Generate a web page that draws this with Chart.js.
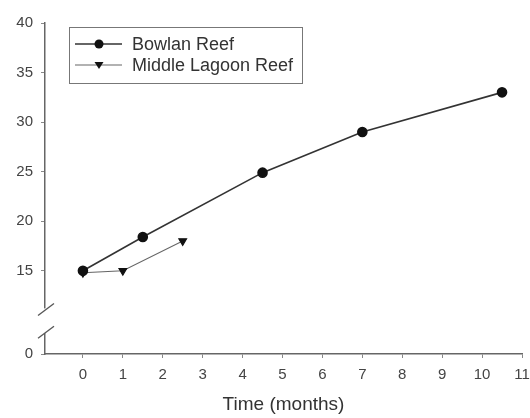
<!DOCTYPE html>
<html>
<head>
<meta charset="utf-8">
<script src="https://cdn.jsdelivr.net/npm/chart.js@4/dist/chart.umd.min.js"></script>
<style>
  html, body { margin: 0; padding: 0; background: #fff; }
  #wrap { width: 530px; height: 418px; }
</style>
</head>
<body>
<div id="wrap"><canvas id="reefChart" width="530" height="418"></canvas></div>
<script>
// --- Data ---
const bowlanMonths = [0, 1.5, 4.5, 7, 10.5];
const bowlanValues = [15, 18.4, 24.9, 29, 33];
const lagoonMonths = [0, 1, 2.5];
const lagoonValues = [14.8, 15, 18];
const xTickLabels = [0, 1, 2, 3, 4, 5, 6, 7, 8, 9, 10, 11];
const yTickLabels = [0, 15, 20, 25, 30, 35, 40];
const seriesNames = ['Bowlan Reef', 'Middle Lagoon Reef'];

// broken axis: "0" sits this far below the 15 mark (in axis units)
const Y_ZERO_AT = 6.6;
const FONT = '"Liberation Sans", Arial, sans-serif';

const toPoints = (xs, ys) => xs.map((x, i) => ({ x: x, y: ys[i] }));
const yPos = v => (v === 0 ? Y_ZERO_AT : v);

// legend box + axis break, drawn on top
const extras = {
    id: 'extras',
    afterDraw(chart) {
        const ctx = chart.ctx;
        const ys = chart.scales.y;
        const axisX = chart.chartArea.left;

        // axis break
        const b1 = ys.getPixelForValue(11.1);
        const b2 = ys.getPixelForValue(8.8);
        ctx.save();
        ctx.fillStyle = '#fff';
        ctx.fillRect(axisX - 2, b1 - 1, 4, b2 - b1 + 2);
        ctx.strokeStyle = '#555';
        ctx.lineWidth = 1.3;
        [b1, b2].forEach(py => {
            ctx.beginPath();
            ctx.moveTo(axisX - 7, py + 6);
            ctx.lineTo(axisX + 9, py - 6);
            ctx.stroke();
        });
        ctx.restore();

        // legend
        const lx = 69, ly = 27, lw = 233, lh = 56;
        ctx.save();
        ctx.strokeStyle = '#777';
        ctx.lineWidth = 1;
        ctx.strokeRect(lx + 0.5, ly + 0.5, lw, lh);
        chart.data.datasets.forEach((ds, i) => {
            const ry = 44 + i * 21;
            ctx.strokeStyle = ds.borderColor;
            ctx.lineWidth = ds.borderWidth;
            ctx.beginPath();
            ctx.moveTo(75, ry);
            ctx.lineTo(122, ry);
            ctx.stroke();
            ctx.fillStyle = '#111';
            ctx.beginPath();
            if (i === 0) {
                ctx.arc(99, ry, 4.5, 0, Math.PI * 2);
            } else {
                ctx.moveTo(94.5, ry - 3);
                ctx.lineTo(103.5, ry - 3);
                ctx.lineTo(99, ry + 4);
                ctx.closePath();
            }
            ctx.fill();
            ctx.fillStyle = '#333';
            ctx.font = '18px ' + FONT;
            ctx.textBaseline = 'middle';
            ctx.fillText(ds.label, 132, ry + 1);
        });
        ctx.restore();
    }
};

new Chart(document.getElementById('reefChart'), {
    type: 'scatter',
    data: {
        datasets: [
            {
                label: seriesNames[0],
                data: toPoints(bowlanMonths, bowlanValues),
                showLine: true,
                borderColor: '#333',
                borderWidth: 1.6,
                backgroundColor: '#111',
                pointBackgroundColor: '#111',
                pointBorderColor: '#111',
                pointStyle: 'circle',
                pointRadius: 4.5
            },
            {
                label: seriesNames[1],
                data: toPoints(lagoonMonths, lagoonValues),
                showLine: true,
                borderColor: '#666',
                borderWidth: 1.1,
                backgroundColor: '#111',
                pointBackgroundColor: '#111',
                pointBorderColor: '#111',
                pointStyle: 'triangle',
                pointRotation: 180,
                pointRadius: 4.5
            }
        ]
    },
    options: {
        responsive: false,
        animation: false,
        layout: { padding: { top: 23, right: 8, left: 0, bottom: 0 } },
        plugins: { legend: { display: false }, tooltip: { enabled: false } },
        scales: {
            x: {
                type: 'linear',
                min: -0.95,
                max: 11,
                afterBuildTicks: s => { s.ticks = xTickLabels.map(v => ({ value: v })); },
                afterFit: s => { s.height = 64; s.paddingLeft = 0; s.paddingRight = 0; },
                border: { color: '#666', width: 1.5 },
                grid: { drawOnChartArea: false, tickLength: 4, color: '#888' },
                ticks: { color: '#444', font: { family: FONT, size: 15 }, padding: 8 },
                title: {
                    display: true,
                    text: 'Time (months)',
                    color: '#333',
                    font: { family: FONT, size: 19 },
                    padding: { top: 4, bottom: 2 }
                }
            },
            y: {
                type: 'linear',
                min: Y_ZERO_AT,
                max: 40,
                afterBuildTicks: s => { s.ticks = yTickLabels.map(v => ({ value: yPos(v) })); },
                afterFit: s => { s.width = 45; s.paddingTop = 0; s.paddingBottom = 0; },
                border: { color: '#666', width: 1.5 },
                grid: { drawOnChartArea: false, tickLength: 4, color: '#888' },
                ticks: {
                    color: '#444',
                    font: { family: FONT, size: 15 },
                    padding: 8,
                    callback: v => (v === Y_ZERO_AT ? '0' : v)
                }
            }
        }
    },
    plugins: [extras]
});
</script>
</body>
</html>
